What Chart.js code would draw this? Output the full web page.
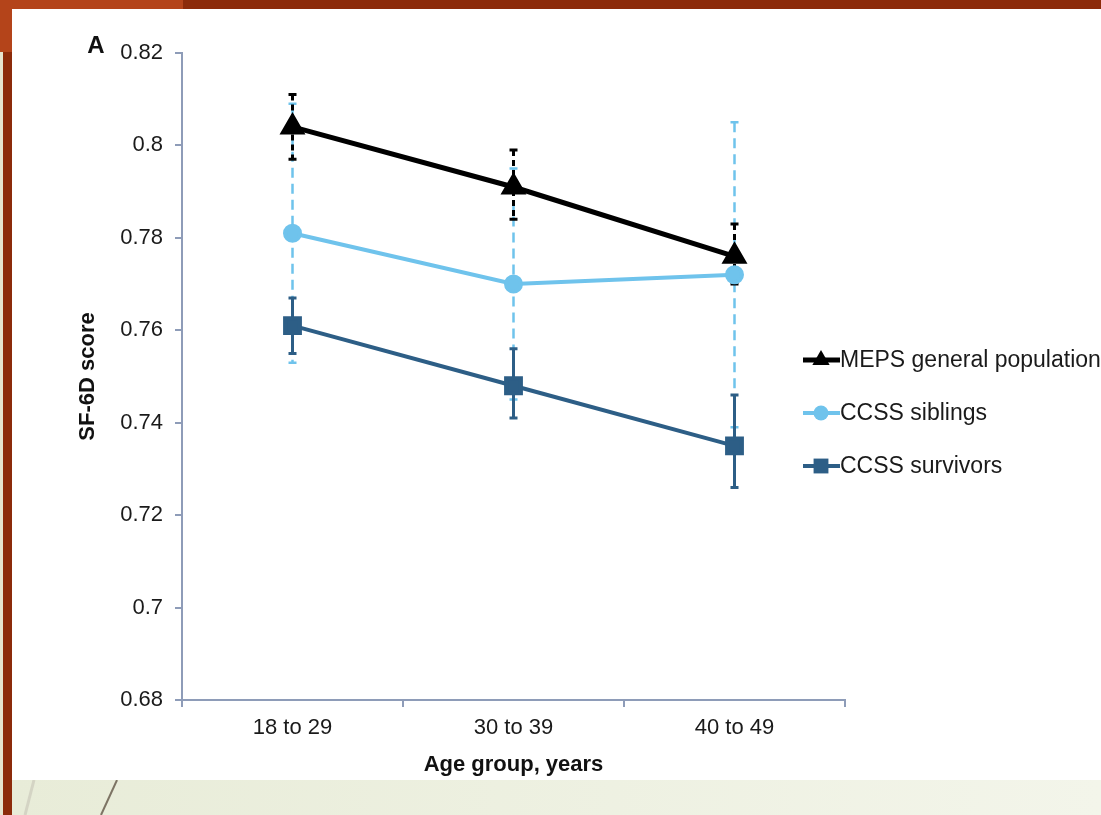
<!DOCTYPE html>
<html lang="en">
  <head>
    <meta charset="UTF-8" />
    <title>SF-6D score by age group</title>
    <style>
      body { margin: 0; width: 1101px; height: 815px; position: relative; overflow: hidden; background: #fff; }
      .deco { position: absolute; }
      #chart { position: absolute; left: 0; top: 0; z-index: 2; }
    </style>
  </head>
  <body>
    <div class="deco" style="left:0;top:0;width:1101px;height:9px;background:#8c2b0a"></div>
    <div class="deco" style="left:0;top:0;width:183px;height:9px;background:#b4441a"></div>
    <div class="deco" style="left:0;top:0;width:3px;height:815px;background:#e6e4cf"></div>
    <div class="deco" style="left:3px;top:0;width:9px;height:815px;background:#8c2b0a"></div>
    <div class="deco" style="left:0;top:0;width:12px;height:52px;background:#b4441a"></div>
    <div class="deco" style="left:12px;top:780px;width:1089px;height:35px;background:linear-gradient(90deg,#e8ecd8,#f3f5ea)"></div>
    <svg class="deco" style="left:0;top:780px" width="200" height="35">
      <line x1="34" y1="0" x2="25" y2="35" stroke="#d4d4c4" stroke-width="3" />
      <line x1="117" y1="0" x2="101" y2="35" stroke="#7d7464" stroke-width="2" />
    </svg>
    <canvas id="chart" width="1101" height="815"></canvas>

    <script src="https://cdn.jsdelivr.net/npm/chart.js"></script>
    <script>
      const categories = ["18 to 29", "30 to 39", "40 to 49"];

      const mepsMean = [0.804, 0.791, 0.776];
      const mepsLow = [0.797, 0.784, 0.770];
      const mepsHigh = [0.811, 0.799, 0.783];

      const siblingsMean = [0.781, 0.770, 0.772];
      const siblingsLow = [0.753, 0.745, 0.739];
      const siblingsHigh = [0.809, 0.795, 0.805];

      const survivorsMean = [0.761, 0.748, 0.735];
      const survivorsLow = [0.755, 0.741, 0.726];
      const survivorsHigh = [0.767, 0.756, 0.746];

      const seriesNames = ["MEPS general population", "CCSS siblings", "CCSS survivors"];

      const axisColor = "#8e9cb8";
      const black = "#000000";
      const lightBlue = "#6fc3ec";
      const darkBlue = "#2d5e86";

      // error bar style per dataset, drawn in this order (siblings underneath)
      const errStyles = [
        { low: mepsLow, high: mepsHigh, color: black, width: 3, dash: [6, 4] },
        { low: siblingsLow, high: siblingsHigh, color: lightBlue, width: 2.5, dash: [10, 6] },
        { low: survivorsLow, high: survivorsHigh, color: darkBlue, width: 3, dash: [] },
      ];
      const errOrder = [1, 0, 2];

      function drawMarker(ctx, style, x, y, r, color) {
        ctx.fillStyle = color;
        ctx.beginPath();
        if (style === "triangle") {
          ctx.moveTo(x, y - r);
          ctx.lineTo(x + r * 0.866, y + r * 0.5);
          ctx.lineTo(x - r * 0.866, y + r * 0.5);
          ctx.closePath();
        } else if (style === "circle") {
          ctx.arc(x, y, r, 0, Math.PI * 2);
        } else {
          const s = r * Math.SQRT1_2;
          ctx.rect(x - s, y - s, 2 * s, 2 * s);
        }
        ctx.fill();
      }

      const errorBars = {
        id: "errorBars",
        beforeDatasetsDraw(chart) {
          const ctx = chart.ctx;
          const y = chart.scales.y;
          errOrder.forEach((i) => {
            const st = errStyles[i];
            const meta = chart.getDatasetMeta(i);
            ctx.save();
            ctx.strokeStyle = st.color;
            ctx.lineWidth = st.width;
            meta.data.forEach((pt, j) => {
              const top = y.getPixelForValue(st.high[j]);
              const bot = y.getPixelForValue(st.low[j]);
              ctx.setLineDash(st.dash);
              ctx.beginPath();
              ctx.moveTo(pt.x, top);
              ctx.lineTo(pt.x, bot);
              ctx.stroke();
              ctx.setLineDash([]);
              ctx.beginPath();
              ctx.moveTo(pt.x - 4, top);
              ctx.lineTo(pt.x + 4, top);
              ctx.moveTo(pt.x - 4, bot);
              ctx.lineTo(pt.x + 4, bot);
              ctx.stroke();
            });
            ctx.restore();
          });
        },
        afterDraw(chart) {
          const ctx = chart.ctx;
          ctx.save();
          // panel letter
          ctx.fillStyle = "#111";
          ctx.font = "bold 24px 'Liberation Sans', Arial, sans-serif";
          ctx.textAlign = "center";
          ctx.textBaseline = "middle";
          ctx.fillText("A", 96, 46);
          // legend
          const ys = [360, 413, 466];
          chart.data.datasets.forEach((ds, i) => {
            const ly = ys[i];
            ctx.strokeStyle = ds.borderColor;
            ctx.lineWidth = ds.borderWidth;
            ctx.beginPath();
            ctx.moveTo(803, ly);
            ctx.lineTo(840, ly);
            ctx.stroke();
            drawMarker(ctx, ds.pointStyle, 821, ly, ds.pointRadius, ds.borderColor);
            ctx.fillStyle = "#1a1a1a";
            ctx.font = "23px 'Liberation Sans', Arial, sans-serif";
            ctx.textAlign = "left";
            ctx.fillText(ds.label, 840, ly + 1);
          });
          ctx.restore();
        },
      };

      const tickFont = { family: "'Liberation Sans', Arial, sans-serif", size: 22 };
      const titleFont = { family: "'Liberation Sans', Arial, sans-serif", size: 22, weight: "bold" };

      new Chart(document.getElementById("chart"), {
        type: "line",
        data: {
          labels: categories,
          datasets: [
            {
              label: seriesNames[0],
              data: mepsMean,
              borderColor: black,
              backgroundColor: black,
              borderWidth: 5,
              pointStyle: "triangle",
              pointRadius: 10,
            },
            {
              label: seriesNames[1],
              data: siblingsMean,
              borderColor: lightBlue,
              backgroundColor: lightBlue,
              borderWidth: 4,
              pointStyle: "circle",
              pointRadius: 7.5,
            },
            {
              label: seriesNames[2],
              data: survivorsMean,
              borderColor: darkBlue,
              backgroundColor: darkBlue,
              borderWidth: 4,
              pointStyle: "rect",
              pointRadius: 10.5,
            },
          ],
        },
        options: {
          responsive: false,
          animation: false,
          layout: { padding: { left: 71, right: 256, top: 53, bottom: 33 } },
          plugins: { legend: { display: false }, tooltip: { enabled: false } },
          elements: { point: { borderWidth: 0 }, line: { tension: 0 } },
          scales: {
            x: {
              offset: true,
              grid: { offset: true, drawOnChartArea: false, drawTicks: true, tickLength: 7, color: axisColor, lineWidth: 2 },
              border: { color: axisColor, width: 2 },
              ticks: { color: "#1a1a1a", font: tickFont, padding: 8 },
              title: { display: true, text: "Age group, years", color: "#111", font: titleFont },
              afterFit(s) { s.height = 82; },
            },
            y: {
              min: 0.68,
              max: 0.82,
              grid: { drawOnChartArea: false, drawTicks: true, tickLength: 7, color: axisColor, lineWidth: 2 },
              border: { color: axisColor, width: 2 },
              ticks: {
                stepSize: 0.02,
                color: "#1a1a1a",
                font: tickFont,
                padding: 12,
                callback: (v) => String(+v.toFixed(2)),
              },
              title: { display: true, text: "SF-6D score", color: "#111", font: titleFont },
              afterFit(s) { s.width = 111; },
            },
          },
        },
        plugins: [errorBars],
      });
    </script>
  </body>
</html>
